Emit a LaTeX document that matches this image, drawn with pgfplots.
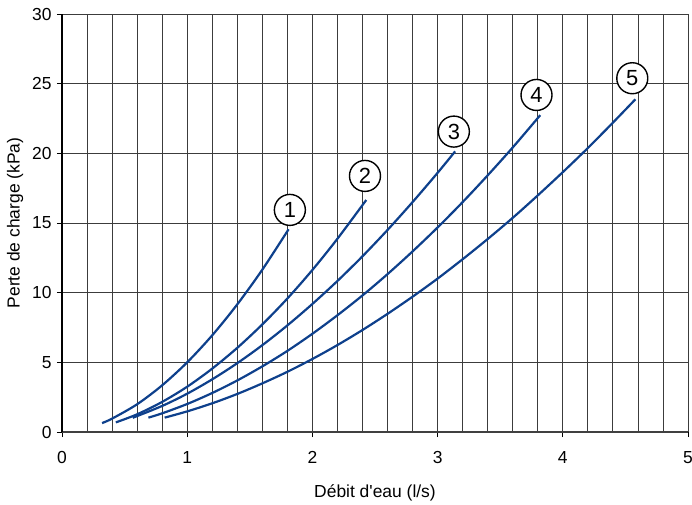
\documentclass[border=0pt]{standalone}
\usepackage{fontspec}
\setmainfont{Liberation Sans}
\usepackage{pgfplots}
\pgfplotsset{compat=1.18}
\definecolor{curveblue}{RGB}{14,64,140}
\definecolor{gridc}{RGB}{60,60,60}
\begin{document}
\begin{tikzpicture}
\begin{axis}[
  scale only axis,
  width=626bp, height=418bp,
  xmin=0, xmax=5, ymin=0, ymax=30,
  xtick={0,1,2,3,4,5},
  ytick={0,5,10,15,20,25,30},
  minor x tick num=4,
  xminorgrids=true, xmajorgrids=true, ymajorgrids=true,
  grid style={gridc, line width=0.8bp},
  minor grid style={gridc, line width=0.8bp},
  axis x line*=bottom, axis y line*=left,
  x axis line style={line width=1.6bp, black!75, -},
  y axis line style={line width=1.2bp, black, -},
  tick align=outside,
  major tick length=5bp, minor tick length=0bp,
  tick style={black, line width=0.8bp},
  /pgf/number format/assume math mode=true,
  ticklabel style={font=\fontsize{17.5}{20}\selectfont},
  xticklabel style={yshift=-11bp},
  yticklabel style={xshift=-2bp},
  label style={font=\fontsize{17.5}{20}\selectfont},
  xlabel={Débit d\textquotesingle eau (l/s)},
  ylabel={Perte de charge (kPa)},
  xlabel style={yshift=-14bp},
  ylabel style={yshift=2bp},
  clip=false,
]
\coordinate (bl) at (rel axis cs:0,0);
\addplot[curveblue, line width=2.2bp, smooth] coordinates {
 (0.32,0.64) (0.4,0.96) (0.6,1.99) (0.8,3.35) (1.0,5.0) (1.2,6.94) (1.4,9.16) (1.6,11.65) (1.81,14.55)};
\addplot[curveblue, line width=2.2bp, smooth] coordinates {
 (0.43,0.69) (0.6,1.27) (0.8,2.16) (1.0,3.25) (1.2,4.55) (1.4,6.04) (1.6,7.72) (1.8,9.58) (2.0,11.63) (2.2,13.87) (2.43,16.65)};
\addplot[curveblue, line width=2.2bp, smooth] coordinates {
 (0.565,1.02) (0.8,1.87) (1.0,2.75) (1.2,3.78) (1.4,4.94) (1.6,6.23) (1.8,7.65) (2.0,9.19) (2.2,10.84) (2.4,12.61) (2.6,14.50) (2.8,16.50) (3.0,18.60) (3.14,20.14)};
\addplot[curveblue, line width=2.2bp, smooth] coordinates {
 (0.69,1.03) (0.8,1.34) (1.0,2.01) (1.2,2.80) (1.4,3.70) (1.6,4.71) (1.8,5.82) (2.0,7.05) (2.2,8.38) (2.4,9.80) (2.6,11.33) (2.8,12.96) (3.0,14.68) (3.2,16.50) (3.4,18.42) (3.6,20.42) (3.82,22.74)};
\addplot[curveblue, line width=2.2bp, smooth] coordinates {
 (0.82,1.03) (1.0,1.48) (1.2,2.06) (1.4,2.73) (1.6,3.49) (1.8,4.32) (2.0,5.24) (2.2,6.24) (2.4,7.32) (2.6,8.48) (2.8,9.71) (3.0,11.01) (3.2,12.40) (3.4,13.85) (3.6,15.37) (3.8,16.98) (4.0,18.65) (4.2,20.38) (4.4,22.20) (4.58,23.88)};
\tikzset{numlab/.style={circle, draw=black, line width=1.4bp, fill=white, minimum size=31bp, inner sep=0pt, font=\fontsize{22}{23}\selectfont}}
\node[numlab] at (axis cs:1.82,15.94) {1};
\node[numlab] at (axis cs:2.42,18.38) {2};
\node[numlab] at (axis cs:3.13,21.56) {3};
\node[numlab] at (axis cs:3.79,24.19) {4};
\node[numlab] at (axis cs:4.555,25.39) {5};
\end{axis}
\pgfresetboundingbox
\path (bl) ++(-62bp,-73bp) rectangle ++(692bp,505bp);
\end{tikzpicture}
\end{document}
